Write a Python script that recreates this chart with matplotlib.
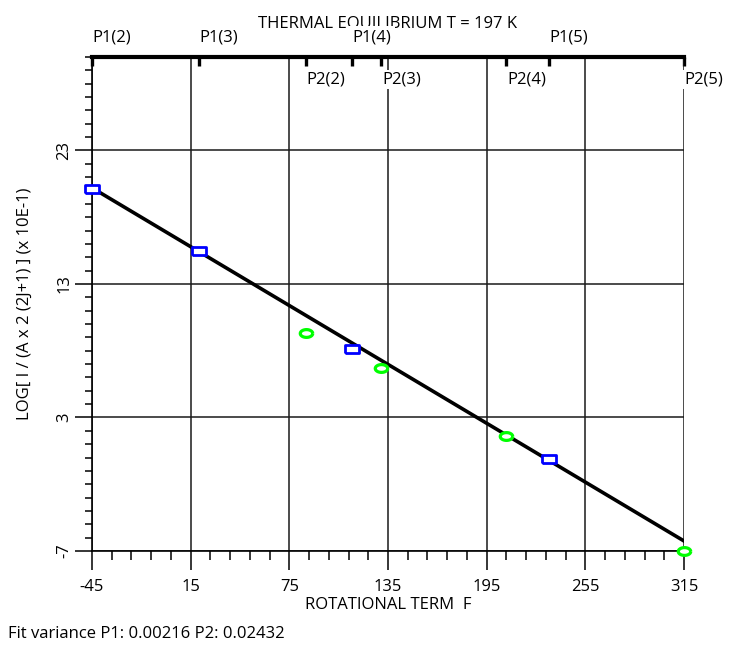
import matplotlib
matplotlib.use("Agg")
import matplotlib.pyplot as plt
import numpy as np

plt.rcParams['font.family'] = ['Open Sans', 'DejaVu Sans']
plt.rcParams['axes.unicode_minus'] = False

# P1 band (blue squares) and P2 band (green circles)
p1_labels = ['P1(2)', 'P1(3)', 'P1(4)', 'P1(5)']
p1_x = [-45, 20, 113, 233]
p1_y = [20.1, 15.5, 8.15, -0.1]

p2_labels = ['P2(2)', 'P2(3)', 'P2(4)', 'P2(5)']
p2_x = [85, 131, 207, 315]
p2_y = [9.3, 6.7, 1.65, -7.0]

# fitted line end points
fit_x = [-45, 315]
fit_y = [20.2, -6.25]

x_major = [-45, 15, 75, 135, 195, 255, 315]
y_major = [-7, 3, 13, 23]

FS = 12

fig = plt.figure(figsize=(7.29, 6.48), dpi=100)
ax = fig.add_axes([92 / 729, 1 - 551 / 648, 592 / 729, (551 - 57) / 648])

ax.set_xlim(-45, 315)
ax.set_ylim(-7, 30)

ax.set_xticks(x_major)
ax.set_xticks(np.arange(-45, 316, 12), minor=True)
ax.set_yticks(y_major)
ax.set_yticks(np.arange(-7, 31, 1), minor=True)
ax.set_yticklabels([str(v) for v in y_major], rotation=90, va='center')

ax.grid(True, which='major', color='#1a1a1a', lw=1.1)
ax.set_axisbelow(True)

ax.tick_params(axis='x', which='major', direction='out', length=13.5, width=1.1,
               labelsize=FS, pad=7)
ax.tick_params(axis='x', which='minor', direction='out', length=6.5, width=1.1)
ax.tick_params(axis='y', which='major', direction='out', length=12, width=1.1,
               labelsize=FS, pad=2)
ax.tick_params(axis='y', which='minor', direction='out', length=5, width=1.1)
ax.tick_params(axis='x', which='both', top=False)
ax.tick_params(axis='y', which='both', right=False)

for s in ['left', 'bottom']:
    ax.spines[s].set_linewidth(1.2)
ax.spines['right'].set_visible(False)
ax.spines['top'].set_linewidth(3)

# top axis with band ticks
top = ax.secondary_xaxis('top')
top.set_xticks(p1_x + p2_x)
top.set_xticklabels([])
top.tick_params(direction='in', length=6.5, width=2.4)
top.spines['top'].set_visible(False)

ax.plot(fit_x, fit_y, color='black', lw=2.6, zorder=3)

rect = [(-1.7, -1), (1.7, -1), (1.7, 1), (-1.7, 1), (-1.7, -1)]
ax.plot(p1_x, p1_y, ls='none', marker=rect, ms=9.5, mfc='white', mec='#0000ff',
        mew=2.0, zorder=4, clip_on=False)
ell = [(np.cos(t) * 1.6, np.sin(t)) for t in np.linspace(0, 2 * np.pi, 30)]
ax.plot(p2_x, p2_y, ls='none', marker=ell, ms=9, mfc='white', mec='#00ff00',
        mew=2.3, zorder=4, clip_on=False)

ax.text(0.5, 1.06, 'THERMAL EQUILIBRIUM T = 197 K', transform=ax.transAxes,
        ha='center', va='baseline', fontsize=FS, clip_on=False, zorder=5)

for lab, x in zip(p1_labels, p1_x):
    ax.annotate(lab, (x, 30), xytext=(0.5, 11), textcoords='offset points',
                ha='left', va='baseline', fontsize=FS, zorder=6,
                bbox=dict(facecolor='white', edgecolor='none', pad=3))
for lab, x in zip(p2_labels, p2_x):
    ax.annotate(lab, (x, 30), xytext=(0.5, -19), textcoords='offset points',
                ha='left', va='baseline', fontsize=FS, zorder=6, annotation_clip=False,
                bbox=dict(facecolor='white', edgecolor='none', pad=1))

ax.set_xlabel('ROTATIONAL TERM  F', fontsize=FS, labelpad=1)
ax.set_ylabel('LOG[ I / (A x 2 (2J+1) ] (x 10E-1)', fontsize=FS, labelpad=17)

fig.text(8 / 729, 1 - 634 / 648, 'Fit variance P1: 0.00216 P2: 0.02432',
         ha='left', va='center', fontsize=FS)

fig.savefig('out.png', dpi=100)
